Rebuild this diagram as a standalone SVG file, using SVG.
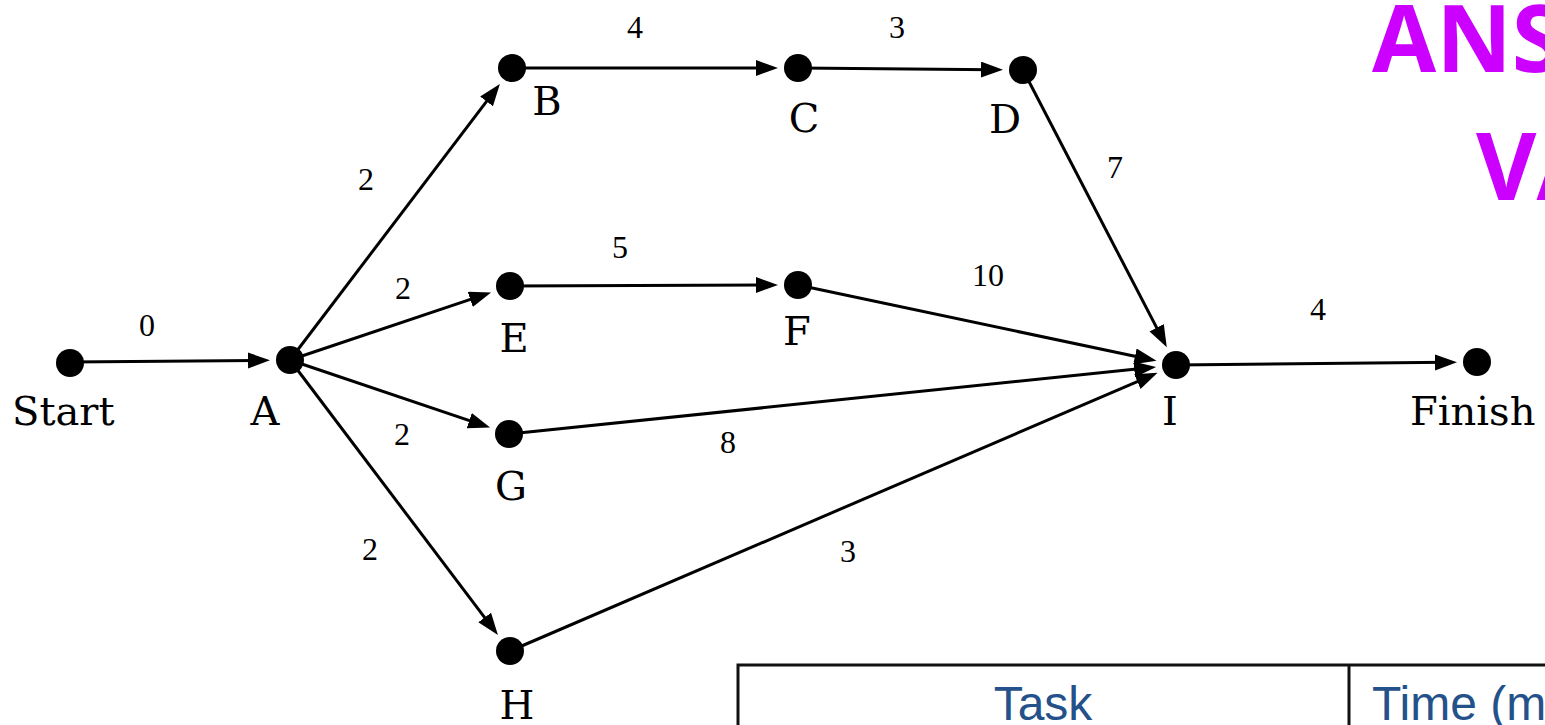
<svg xmlns="http://www.w3.org/2000/svg" width="1545" height="725" viewBox="0 0 1545 725">
<style>
.edge{stroke:#000;stroke-width:3;fill:none;marker-end:url(#ah)}
.node{fill:#000}
.lbl{font-family:"DejaVu Serif","Liberation Serif",serif;font-size:40px;fill:#000}
.num{font-family:"Liberation Serif","DejaVu Serif",serif;font-size:32px;fill:#000;text-anchor:middle}
.title{font-family:"Open Sans","Liberation Sans",sans-serif;font-weight:bold;font-size:93px;fill:#CC00FF}
.th{font-family:"Liberation Sans",Arial,sans-serif;font-size:48px;fill:#24518A}
</style>
<defs>
<marker id="ah" markerUnits="userSpaceOnUse" markerWidth="24" markerHeight="18" refX="12" refY="8" orient="auto">
<path d="M0,0 L22,8 L0,16 Z" fill="#000"/>
</marker>
</defs>
<rect width="1545" height="725" fill="#fff"/>
<g id="connectors">
<line class="edge" x1="70" y1="362" x2="260" y2="360.4"/>
<line class="edge" x1="290" y1="360" x2="493.8" y2="91.9"/>
<line class="edge" x1="512" y1="68" x2="768" y2="68"/>
<line class="edge" x1="798" y1="68" x2="993" y2="69.7"/>
<line class="edge" x1="1023" y1="70" x2="1162.2" y2="338.4"/>
<line class="edge" x1="290" y1="360" x2="481.6" y2="295.6"/>
<line class="edge" x1="510" y1="286" x2="768" y2="285"/>
<line class="edge" x1="798" y1="285" x2="1146.7" y2="358.8"/>
<line class="edge" x1="290" y1="360" x2="480.6" y2="424.4"/>
<line class="edge" x1="509" y1="434" x2="1146.2" y2="368.1"/>
<line class="edge" x1="290" y1="360" x2="491.9" y2="627.1"/>
<line class="edge" x1="510" y1="651" x2="1148.4" y2="376.8"/>
<line class="edge" x1="1176" y1="365" x2="1447" y2="362.3"/>
</g>
<g id="edge-labels">
<text class="num" x="147" y="336">0</text>
<text class="num" x="635" y="38">4</text>
<text class="num" x="897" y="38">3</text>
<text class="num" x="366" y="190">2</text>
<text class="num" x="403" y="299">2</text>
<text class="num" x="620" y="258">5</text>
<text class="num" x="988" y="286">10</text>
<text class="num" x="1115" y="178">7</text>
<text class="num" x="1318" y="320">4</text>
<text class="num" x="402" y="445">2</text>
<text class="num" x="728" y="453">8</text>
<text class="num" x="370" y="560">2</text>
<text class="num" x="848" y="562">3</text>
</g>
<g id="node-start"><circle class="node" cx="70" cy="363" r="14"/><text class="lbl" x="12" y="425">Start</text></g>
<g id="node-A"><circle class="node" cx="290" cy="360" r="14"/><text class="lbl" x="265" y="425" text-anchor="middle">A</text></g>
<g id="node-B"><circle class="node" cx="512" cy="68" r="14"/><text class="lbl" x="547" y="115" text-anchor="middle">B</text></g>
<g id="node-C"><circle class="node" cx="798" cy="68" r="14"/><text class="lbl" x="804" y="132" text-anchor="middle">C</text></g>
<g id="node-D"><circle class="node" cx="1023" cy="70" r="14"/><text class="lbl" x="1005" y="133" text-anchor="middle">D</text></g>
<g id="node-E"><circle class="node" cx="510" cy="286" r="14"/><text class="lbl" x="514" y="352" text-anchor="middle">E</text></g>
<g id="node-F"><circle class="node" cx="798" cy="285" r="14"/><text class="lbl" x="797" y="345" text-anchor="middle">F</text></g>
<g id="node-G"><circle class="node" cx="509" cy="434" r="14"/><text class="lbl" x="511" y="500" text-anchor="middle">G</text></g>
<g id="node-H"><circle class="node" cx="510" cy="651" r="14"/><text class="lbl" x="517" y="719" text-anchor="middle">H</text></g>
<g id="node-I"><circle class="node" cx="1176" cy="365" r="14"/><text class="lbl" x="1170" y="425" text-anchor="middle">I</text></g>
<g id="node-finish"><circle class="node" cx="1477" cy="362" r="14"/><text class="lbl" x="1410" y="425">Finish</text></g>
<g id="title">
<text class="title" x="1372" y="72">ANS</text>
<text class="title" x="1476" y="200">VA</text>
</g>
<g id="table">
<rect x="738" y="665" width="900" height="120" fill="none" stroke="#111" stroke-width="3"/>
<line x1="1349" y1="665" x2="1349" y2="725" stroke="#111" stroke-width="3"/>
<text class="th" x="1043" y="720" text-anchor="middle">Task</text>
<text class="th" x="1372" y="720">Time (m</text>
</g>
</svg>
